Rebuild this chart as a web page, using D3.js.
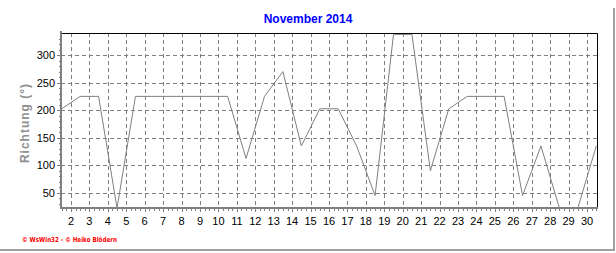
<!DOCTYPE html>
<html>
<head>
<meta charset="utf-8">
<script src="https://cdn.jsdelivr.net/npm/d3@7"></script>
<style>
  body { margin: 0; background: #fff; }
  text { font-family: "Liberation Sans", Arial, sans-serif; }
</style>
</head>
<body>
<div id="viz"></div>
<script>
// daily wind direction values, plotted at mid-day
var days = [1.5, 2.5, 3.5, 4.5, 5.5, 6.5, 7.5, 8.5, 9.5, 10.5, 11.5, 12.5, 13.5, 14.5, 15.5,
            16.5, 17.5, 18.5, 19.5, 20.5, 21.5, 22.5, 23.5, 24.5, 25.5, 26.5, 27.5, 28.5, 29.5, 30.5];
var richtung = [202.5, 225, 225, 22.5, 225, 225, 225, 225, 225, 225, 112.5, 225, 270, 135, 202.5,
                202.5, 135, 45, 337.5, 337.5, 90, 202.5, 225, 225, 225, 45, 135, 22.5, 22.5, 135];
var xTicks = d3.range(2, 31);
var yTicks = [50, 100, 150, 200, 250, 300];

var width = 616, height = 253;
var pLeft = 61, pRight = 597, pTop = 33, pBottom = 208;

var svg = d3.select("#viz").append("svg")
  .attr("width", width)
  .attr("height", height);

var x = d3.scaleLinear().domain([1.46, 30.54]).range([pLeft, pRight]);
var y = d3.scaleLinear().domain([22.5, 340]).range([pBottom, pTop]);

// window frame
svg.append("line").attr("x1", 614).attr("x2", 614).attr("y1", 8).attr("y2", 251)
  .attr("stroke", "#a0a0a0").attr("stroke-width", 2);
svg.append("line").attr("x1", 0).attr("x2", 615).attr("y1", 250).attr("y2", 250)
  .attr("stroke", "#a0a0a0").attr("stroke-width", 2);

// title
svg.append("text")
  .attr("x", 308).attr("y", 23)
  .attr("text-anchor", "middle")
  .attr("fill", "#0000ff")
  .style("font-size", "12px")
  .style("font-weight", "bold")
  .text("November 2014");

// grid
var grid = svg.append("g").attr("stroke", "#808080").attr("stroke-dasharray", "4,3");
xTicks.forEach(function (d) {
  grid.append("line")
    .attr("x1", Math.round(x(d)) + 0.5).attr("x2", Math.round(x(d)) + 0.5)
    .attr("y1", pTop).attr("y2", pBottom);
});
yTicks.forEach(function (d) {
  grid.append("line")
    .attr("x1", pLeft).attr("x2", pRight)
    .attr("y1", Math.round(y(d)) + 0.5).attr("y2", Math.round(y(d)) + 0.5);
});

// data line
svg.append("clipPath").attr("id", "clip")
  .append("rect").attr("x", pLeft).attr("y", pTop).attr("width", pRight - pLeft).attr("height", pBottom - pTop);

var line = d3.line()
  .x(function (d, i) { return x(days[i]); })
  .y(function (d) { return y(d); });

svg.append("path")
  .datum(richtung)
  .attr("clip-path", "url(#clip)")
  .attr("fill", "none")
  .attr("stroke", "#808080")
  .attr("stroke-width", 1)
  .attr("d", line);

// top and right border
svg.append("path")
  .attr("d", "M" + pLeft + "," + (pTop + 0.5) + "H" + (pRight + 0.5) + "V" + pBottom)
  .attr("fill", "none").attr("stroke", "#000").attr("stroke-width", 1);

// y axis
var yAxis = svg.append("g");
yAxis.append("line").attr("x1", pLeft).attr("x2", pLeft).attr("y1", pTop - 2).attr("y2", pBottom + 1)
  .attr("stroke", "#808080").attr("stroke-width", 2);
d3.range(30, 340, 10).forEach(function (d) {
  var major = yTicks.indexOf(d) >= 0;
  yAxis.append("line")
    .attr("x1", pLeft - (major ? 4 : 2)).attr("x2", pLeft)
    .attr("y1", Math.round(y(d)) + 0.5).attr("y2", Math.round(y(d)) + 0.5)
    .attr("stroke", "#808080");
});
yTicks.forEach(function (d) {
  yAxis.append("text")
    .attr("x", 55).attr("y", y(d) + 4)
    .attr("text-anchor", "end")
    .style("font-size", "11px")
    .text(d);
});

// x axis
var xAxis = svg.append("g");
xAxis.append("line").attr("x1", pLeft - 1).attr("x2", pRight + 1).attr("y1", pBottom).attr("y2", pBottom)
  .attr("stroke", "#808080").attr("stroke-width", 2);
d3.range(1.5, 30.6, 0.25).forEach(function (d) {
  var major = xTicks.indexOf(d) >= 0;
  xAxis.append("line")
    .attr("x1", Math.round(x(d)) + 0.5).attr("x2", Math.round(x(d)) + 0.5)
    .attr("y1", pBottom).attr("y2", pBottom + (major ? 4 : 3))
    .attr("stroke", "#808080");
});
xTicks.forEach(function (d) {
  xAxis.append("text")
    .attr("x", x(d)).attr("y", 225)
    .attr("text-anchor", "middle")
    .style("font-size", "11px")
    .text(d);
});

// y label
svg.append("text")
  .attr("transform", "translate(29,123) rotate(-90)")
  .attr("text-anchor", "middle")
  .attr("fill", "#909090")
  .style("font-size", "12px")
  .style("font-weight", "bold")
  .style("letter-spacing", "1px")
  .text("Richtung (°)");

// footer
svg.append("text")
  .attr("x", 22).attr("y", 241.5)
  .attr("fill", "#ff0000")
  .attr("textLength", 95)
  .attr("lengthAdjust", "spacingAndGlyphs")
  .style("font-family", "DejaVu Sans")
  .style("font-size", "7px")
  .style("font-weight", "bold")
  .text("© WsWin32 - © Heiko Blödern");
</script>
</body>
</html>
